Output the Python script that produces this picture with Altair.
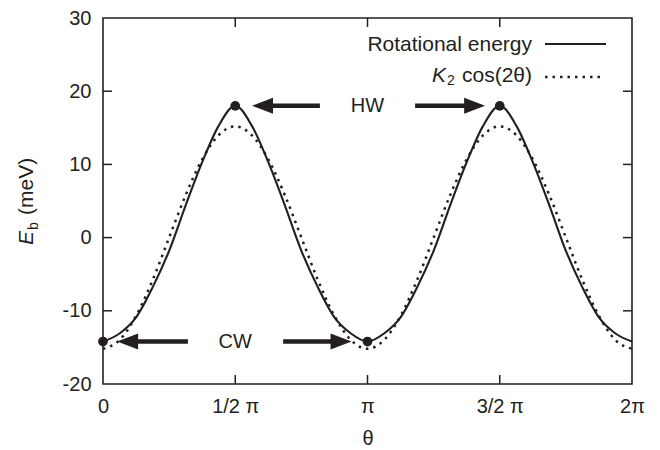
import altair as alt
import pandas as pd

# ---------------- data ----------------
theta_over_pi = [0.0, 0.0625, 0.125, 0.1875, 0.25, 0.3125, 0.375, 0.4375, 0.5,
                 0.5625, 0.625, 0.6875, 0.75, 0.8125, 0.875, 0.9375, 1.0,
                 1.0625, 1.125, 1.1875, 1.25, 1.3125, 1.375, 1.4375, 1.5,
                 1.5625, 1.625, 1.6875, 1.75, 1.8125, 1.875, 1.9375, 2.0]
rot_energy = [-14.2, -13.1, -10.9, -6.8, -1.8, 4.4, 10.3, 15.3, 18.0,
              15.3, 10.3, 4.4, -1.8, -6.8, -10.9, -13.1, -14.2,
              -13.1, -10.9, -6.8, -1.8, 4.4, 10.3, 15.3, 18.0,
              15.3, 10.3, 4.4, -1.8, -6.8, -10.9, -13.1, -14.2]
k2_cos = [-15.2, -14.0, -10.7, -5.8, 0.0, 5.8, 10.7, 14.0, 15.2,
          14.0, 10.7, 5.8, 0.0, -5.8, -10.7, -14.0, -15.2,
          -14.0, -10.7, -5.8, 0.0, 5.8, 10.7, 14.0, 15.2,
          14.0, 10.7, 5.8, 0.0, -5.8, -10.7, -14.0, -15.2]

marked_theta = [0.0, 0.5, 1.0, 1.5]
marked_energy = [-14.2, 18.0, -14.2, 18.0]

x_ticks = [0, 0.5, 1.0, 1.5, 2.0]
x_tick_labels = ["0", "1/2 π", "π", "3/2 π", "2π"]
y_ticks = [-20, -10, 0, 10, 20, 30]

# annotations (arrows and labels), in data units
ann_labels = ["HW", "CW"]
ann_label_x = [1.0, 0.5]
ann_label_y = [18.0, -14.2]
shaft_x = [0.603, 1.180, 0.093, 0.681]
shaft_x2 = [0.820, 1.405, 0.321, 0.900]
shaft_y = [18.0, 18.0, -14.2, -14.2]
head_left_x = [0.603, 0.093]
head_left_y = [18.0, -14.2]
head_right_x = [1.405, 0.900]
head_right_y = [18.0, -14.2]

# ---------------- styling ----------------
INK = "#231f20"
FONT = "Liberation Sans"
W, H = 529, 366

curves = pd.DataFrame({"t": theta_over_pi, "rot": rot_energy, "k2": k2_cos})
marked = pd.DataFrame({"t": marked_theta, "e": marked_energy})
labels_df = pd.DataFrame({"t": ann_label_x, "e": ann_label_y, "txt": ann_labels})
shafts = pd.DataFrame({"t": shaft_x, "t2": shaft_x2, "e": shaft_y})
hl = pd.DataFrame({"t": head_left_x, "e": head_left_y})
hr = pd.DataFrame({"t": head_right_x, "e": head_right_y})
xt = pd.DataFrame({"t": x_ticks[1:-1]})
yt = pd.DataFrame({"e": y_ticks[1:-1]})

label_expr = "[" + ",".join("'%s'" % s for s in x_tick_labels) + "][round(datum.value*2)]"

xscale = alt.Scale(domain=[0, 2], nice=False, zero=False)
yscale = alt.Scale(domain=[-20, 30], nice=False, zero=False)
xaxis = alt.Axis(values=x_ticks, labelExpr=label_expr, ticks=False, domain=False,
                 grid=False, title="θ", labelFont=FONT, labelFontSize=20,
                 labelColor=INK, labelPadding=12, titleFont=FONT, titleFontSize=20,
                 titleFontWeight="normal", titleColor=INK, titlePadding=12,
                 labelFlush=False)
yaxis = alt.Axis(values=y_ticks, labelExpr="'' + datum.value", ticks=False,
                 domain=False, grid=False, title="",
                 labelFont=FONT, labelFontSize=20, labelColor=INK, labelPadding=12)


def X(field):
    return alt.X(field, type="quantitative", scale=xscale, axis=xaxis)


def Y(field):
    return alt.Y(field, type="quantitative", scale=yscale, axis=yaxis)


base = alt.Chart(curves)
solid = base.mark_line(color=INK, strokeWidth=2.1, interpolate="monotone").encode(
    x=X("t"), y=Y("rot"))
dotted = base.mark_line(color=INK, strokeWidth=2.5, strokeDash=[2.5, 5],
                        interpolate="monotone").encode(x=X("t"), y=Y("k2"))
dots = alt.Chart(marked).mark_point(filled=True, color=INK, opacity=1, size=95).encode(
    x=X("t"), y=Y("e"))

shaft = alt.Chart(shafts).mark_rule(color=INK, strokeWidth=4.5).encode(
    x=X("t"), x2="t2", y=Y("e"))
head_l = alt.Chart(hl).mark_point(shape="M-1,0L1,-0.76L1,0.76Z", size=441,
                                  filled=True, color=INK, opacity=1).encode(
    x=X("t"), y=Y("e"))
head_r = alt.Chart(hr).mark_point(shape="M1,0L-1,-0.76L-1,0.76Z", size=441,
                                  filled=True, color=INK, opacity=1).encode(
    x=X("t"), y=Y("e"))
ann_text = alt.Chart(labels_df).mark_text(font=FONT, fontSize=20, color=INK,
                                          align="center", baseline="middle").encode(
    x=X("t"), y=Y("e"), text="txt")

# inward ticks on all four sides
tick_len = 9
yt_left = alt.Chart(yt).mark_rule(color=INK, strokeWidth=1.5).encode(
    y=Y("e"), x=alt.value(0), x2=alt.value(tick_len))
yt_right = alt.Chart(yt).mark_rule(color=INK, strokeWidth=1.5).encode(
    y=Y("e"), x=alt.value(W - tick_len), x2=alt.value(W))
xt_bot = alt.Chart(xt).mark_rule(color=INK, strokeWidth=1.5).encode(
    x=X("t"), y=alt.value(H), y2=alt.value(H - tick_len))
xt_top = alt.Chart(xt).mark_rule(color=INK, strokeWidth=1.5).encode(
    x=X("t"), y=alt.value(0), y2=alt.value(tick_len))

# legend (key) built by hand: label on the left, line sample on the right
one = pd.DataFrame({"a": [0]})
leg = alt.Chart(one)
leg_t1 = leg.mark_text(font=FONT, fontSize=21, color=INK, align="right",
                       baseline="middle", text="Rotational energy").encode(
    x=alt.value(429), y=alt.value(27))
leg_l1 = leg.mark_rule(color=INK, strokeWidth=2).encode(
    x=alt.value(442), x2=alt.value(503), y=alt.value(26))
leg_t2 = leg.mark_text(font=FONT, fontSize=21, color=INK, align="right",
                       baseline="middle", text="cos(2θ)").encode(
    x=alt.value(429), y=alt.value(58))
leg_k = leg.mark_text(font=FONT, fontSize=21, color=INK, align="right",
                      baseline="middle", fontStyle="italic", text="K").encode(
    x=alt.value(343), y=alt.value(58))
leg_sub = leg.mark_text(font=FONT, fontSize=14, color=INK, align="left",
                        baseline="middle", text="2").encode(
    x=alt.value(344), y=alt.value(63))
leg_l2 = leg.mark_rule(color=INK, strokeWidth=2.5, strokeDash=[2.5, 5]).encode(
    x=alt.value(442), x2=alt.value(502), y=alt.value(59))

# y-axis title "E_b (meV)" (rotated)
yt_E = leg.mark_text(font=FONT, fontSize=21, color=INK, align="left",
                     baseline="alphabetic", angle=270, fontStyle="italic",
                     text="E").encode(x=alt.value(-70), y=alt.value(227))
yt_b = leg.mark_text(font=FONT, fontSize=14, color=INK, align="left",
                     baseline="alphabetic", angle=270, text="b").encode(
    x=alt.value(-65), y=alt.value(212))
yt_rest = leg.mark_text(font=FONT, fontSize=21, color=INK, align="left",
                        baseline="alphabetic", angle=270, text="(meV)").encode(
    x=alt.value(-70), y=alt.value(197))

chart = alt.layer(
    dotted, solid, dots, shaft, head_l, head_r, ann_text,
    yt_left, yt_right, xt_bot, xt_top,
    leg_t1, leg_l1, leg_t2, leg_k, leg_sub, leg_l2,
    yt_E, yt_b, yt_rest,
).properties(
    width=W, height=H,
    padding={"left": 103, "top": 18, "right": 28, "bottom": 66},
    autosize=alt.AutoSizeParams(type="none"),
    background="white",
).configure_view(stroke=INK, strokeWidth=1.6)

chart.save("out.html", embed_options={"renderer": "svg", "actions": False})
